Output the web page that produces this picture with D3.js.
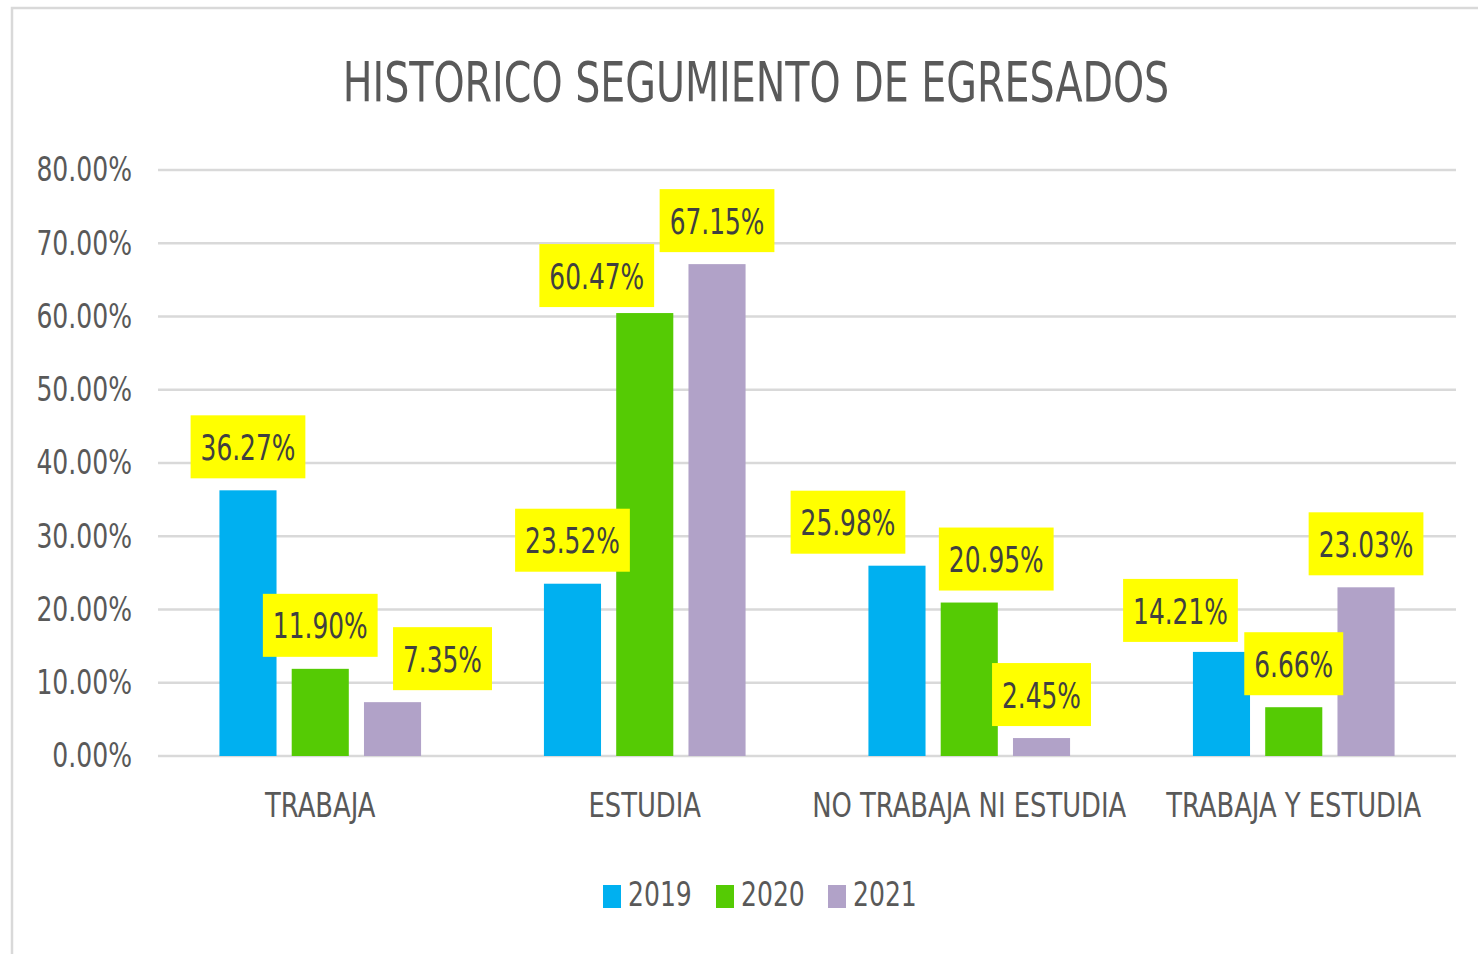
<!DOCTYPE html>
<html>
<head>
<meta charset="utf-8">
<script src="https://cdn.jsdelivr.net/npm/d3@7"></script>
<style>
body{margin:0;background:#fff;}
text{font-family:"Liberation Sans Narrow","DejaVu Sans Condensed","DejaVu Sans",sans-serif;}
</style>
</head>
<body>
<svg id="grafico" width="1478" height="954"></svg>
<script>
// datos
const categorias = ["TRABAJA","ESTUDIA","NO TRABAJA NI ESTUDIA","TRABAJA Y ESTUDIA"];
const anios = ["2019","2020","2021"];
const v2019 = [36.27, 23.52, 25.98, 14.21];
const v2020 = [11.90, 60.47, 20.95, 6.66];
const v2021 = [7.35, 67.15, 2.45, 23.03];
const ticksY = [0,10,20,30,40,50,60,70,80];
const colores = ["#00B0F0","#55CB04","#B1A2C8"];

const series = [v2019, v2020, v2021];
const svg = d3.select("#grafico");

// el texto del original es estrecho: se comprime en horizontal
function estrechar(sel, sx){
  sel.each(function(){
    const t = d3.select(this);
    const x = +t.attr("x")||0;
    t.attr("x",x/sx).attr("transform","scale("+sx+",1)");
  });
}

// borde del grafico (solo arriba e izquierda se ven)
svg.append("rect").attr("x",12).attr("y",8).attr("width",1490).attr("height",970)
  .attr("fill","none").attr("stroke","#d9d9d9").attr("stroke-width",2.5);

// titulo
svg.append("text").attr("x",756).attr("y",101).attr("text-anchor","middle")
  .attr("font-size",55).attr("fill","#595959").text("HISTORICO SEGUMIENTO DE EGRESADOS")
  .call(estrechar,0.8);

const x0 = d3.scaleBand().domain(categorias).range([158,1456]).padding(0);
const x1 = d3.scaleBand().domain(anios).range([0,x0.bandwidth()]).paddingInner(0.21).paddingOuter(0.85);
const y = d3.scaleLinear().domain([0,80]).range([756,170]);

// lineas de cuadricula
svg.append("g").selectAll("line").data(ticksY).join("line")
  .attr("x1",158).attr("x2",1456)
  .attr("y1",d=>y(d)).attr("y2",d=>y(d))
  .attr("stroke","#d9d9d9").attr("stroke-width",2.5);

// eje Y
const ejeY = svg.append("g").attr("transform","translate(132,0)")
  .call(d3.axisLeft(y).tickValues(ticksY).tickSize(0).tickPadding(0).tickFormat(d=>d.toFixed(2)+"%"));
ejeY.select(".domain").remove();
ejeY.selectAll("text").attr("font-size",34).attr("fill","#595959").attr("font-family",null)
  .call(estrechar,0.82);

// eje X
const ejeX = svg.append("g").attr("transform","translate(0,790)")
  .call(d3.axisBottom(x0).tickSize(0).tickPadding(0));
ejeX.select(".domain").remove();
ejeX.selectAll("text").attr("font-size",33).attr("fill","#595959").attr("dy","0.82em").attr("font-family",null)
  .call(estrechar,0.87);

// barras
const filas = [];
categorias.forEach((c,i)=>anios.forEach((a,j)=>filas.push({cat:c, anio:a, valor:series[j][i], color:colores[j]})));

svg.append("g").selectAll("rect").data(filas).join("rect")
  .attr("x",d=>x0(d.cat)+x1(d.anio))
  .attr("y",d=>y(d.valor))
  .attr("width",x1.bandwidth())
  .attr("height",d=>y(0)-y(d.valor))
  .attr("fill",d=>d.color);

// etiquetas de datos (algunas movidas a mano, como en el original)
const desplazar = {"TRABAJA|2021":[50,0],"ESTUDIA|2020":[-48,6],"NO TRABAJA NI ESTUDIA|2019":[-49,0],
  "NO TRABAJA NI ESTUDIA|2020":[27,0],"TRABAJA Y ESTUDIA|2019":[-41,2]};
const etiquetas = svg.append("g").selectAll("g").data(filas).join("g")
  .attr("transform",d=>{
    const m = desplazar[d.cat+"|"+d.anio]||[0,0];
    const cx = x0(d.cat)+x1(d.anio)+x1.bandwidth()/2+m[0];
    return "translate("+cx+","+(y(d.valor)-12+m[1])+")";
  });
etiquetas.append("rect").attr("y",-63).attr("height",63).attr("fill","#ffff00");
etiquetas.append("text").attr("y",-31).attr("dy","0.36em").attr("text-anchor","middle")
  .attr("font-size",35).attr("fill","#404040").text(d=>d.valor.toFixed(2)+"%")
  .call(estrechar,0.79);
etiquetas.each(function(){
  const g = d3.select(this);
  const w = g.select("text").node().getComputedTextLength()*0.79+20;
  g.select("rect").attr("x",-w/2).attr("width",w);
});

// leyenda
const leyenda = svg.append("g").selectAll("g").data(anios).join("g")
  .attr("transform",(d,i)=>"translate("+[603,716,828][i]+",885)");
leyenda.append("rect").attr("width",18).attr("height",23).attr("fill",(d,i)=>colores[i]);
leyenda.append("text").attr("x",25).attr("y",9).attr("dy","0.36em")
  .attr("font-size",34).attr("fill","#595959").text(d=>d)
  .call(estrechar,0.82);
</script>
</body>
</html>
